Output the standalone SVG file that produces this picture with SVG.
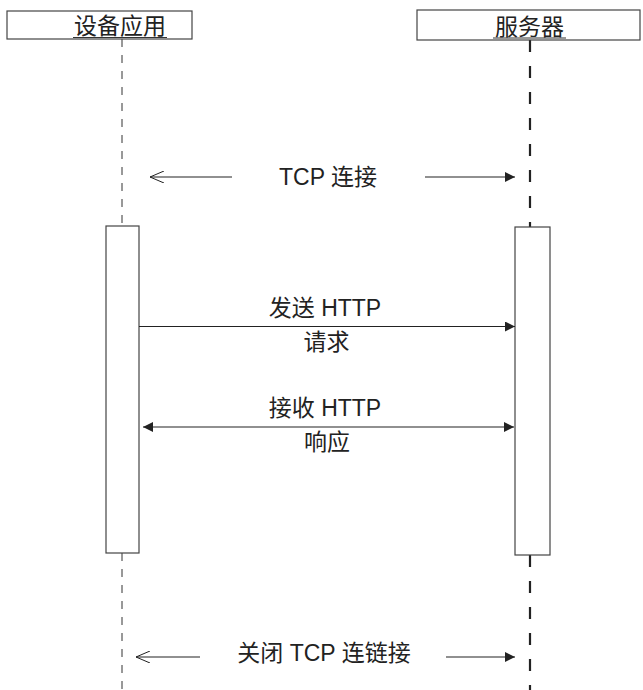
<svg xmlns="http://www.w3.org/2000/svg" width="643" height="690" viewBox="0 0 643 690">
<defs>
<style>
.t{font-family:"Liberation Sans","Noto Sans CJK SC",sans-serif;fill:#222;font-size:23px;text-anchor:middle}
.h{font-size:23px}
.box{fill:#fff;stroke:#444;stroke-width:1.2}
.ll{stroke:#333;stroke-width:1;stroke-dasharray:8 8;fill:none}
.lr{stroke:#222;stroke-width:2.2;stroke-dasharray:12 14;fill:none}
.ar{stroke:#222;stroke-width:1.2;fill:none}
</style>
<marker id="fa" viewBox="0 0 10 10" refX="10" refY="5" markerWidth="10" markerHeight="10" markerUnits="userSpaceOnUse" orient="auto-start-reverse"><path d="M0,0 L10,5 L0,10 z" fill="#222"/></marker>
<marker id="oa" viewBox="0 0 14 12" refX="0" refY="6" markerWidth="14" markerHeight="12" markerUnits="userSpaceOnUse" orient="auto"><path d="M14,0 L0,6 L14,12" fill="none" stroke="#222" stroke-width="1"/></marker>
</defs>
<g id="lifelines">
<line class="ll" x1="122" y1="39" x2="122" y2="226"/>
<line class="ll" x1="122" y1="553" x2="122" y2="690"/>
<line class="lr" x1="530" y1="40" x2="530" y2="227"/>
<line class="lr" x1="530" y1="555" x2="530" y2="690"/>
</g>
<g id="device">
<rect class="box" x="7" y="11" width="185" height="28"/>
<text class="t h" x="120" y="34">设备应用</text>
<line x1="73" y1="37.5" x2="167" y2="37.5" stroke="#333" stroke-width="1.2"/>
</g>
<g id="server">
<rect class="box" x="417" y="10" width="223" height="30"/>
<text class="t h" x="529.5" y="35">服务器</text>
<line x1="493" y1="38" x2="566" y2="38" stroke="#333" stroke-width="1.2"/>
</g>
<g id="act-device"><rect class="box" x="106" y="226" width="33" height="327"/></g>
<g id="act-server"><rect class="box" x="515" y="227" width="35" height="328"/></g>
<g id="connectors">
<line class="ar" x1="150" y1="177" x2="232" y2="177" marker-start="url(#oa)"/>
<line class="ar" x1="425" y1="177" x2="515" y2="177" marker-end="url(#fa)"/>
<line class="ar" x1="139" y1="326.5" x2="515" y2="326.5" marker-end="url(#fa)"/>
<line class="ar" x1="143" y1="427" x2="514" y2="427" marker-start="url(#fa)" marker-end="url(#fa)"/>
<line class="ar" x1="136" y1="657" x2="200" y2="657" marker-start="url(#oa)"/>
<line class="ar" x1="446" y1="657" x2="515" y2="657" marker-end="url(#fa)"/>
</g>
<g id="labels">
<text class="t" x="328" y="185">TCP 连接</text>
<text class="t" x="325" y="316">发送 HTTP</text>
<text class="t" x="326.5" y="350">请求</text>
<text class="t" x="325" y="416">接收 HTTP</text>
<text class="t" x="327" y="450">响应</text>
<text class="t" x="324" y="661">关闭 TCP 连链接</text>
</g>
</svg>
